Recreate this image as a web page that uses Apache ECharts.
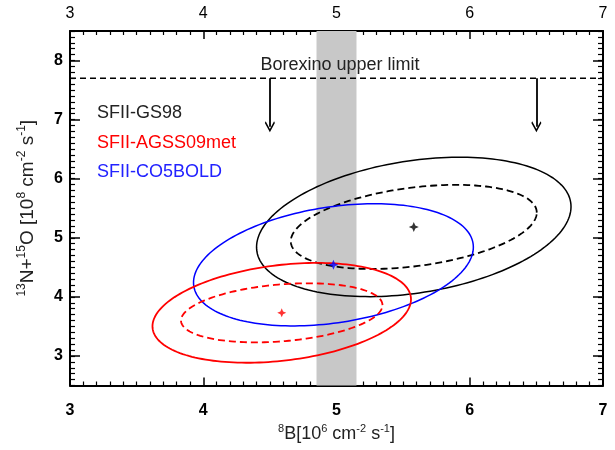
<!DOCTYPE html>
<html><head><meta charset="utf-8">
<script src="https://cdn.jsdelivr.net/npm/echarts@6/dist/echarts.min.js"></script>
<style>html,body{margin:0;padding:0;background:#fff}#c{width:615px;height:450px}</style>
</head><body><div id="c"></div>
<script>
// ---- data ----
const xTickValues = [3, 4, 5, 6, 7];
const yTickValues = [3, 4, 5, 6, 7, 8];
const bandX = [4.85, 5.15];
const borexinoLimit = 7.7;
const arrowX = [4.5, 6.5];
const arrowEnd = 6.88;

// best-fit points (centres) of the three models
const centerGS98 = [5.58, 5.184];
const centerCO5BOLD = [4.977, 4.542];
const centerAGSS = [4.589, 3.730];

// contour shapes: [x centre, y centre, x half-width, y half-height, correlation]
const gs98Outer    = [5.58, 5.184, 1.180, 1.180, 0.29];
const gs98Inner    = [5.58, 5.184, 0.923, 0.712, 0.34];
const co5boldOuter = [4.977, 4.542, 1.050, 1.034, 0.29];
const agssOuter    = [4.589, 3.730, 0.970, 0.845, 0.27];
const agssInner    = [4.589, 3.730, 0.756, 0.500, 0.26];

const legendNames = ['SFII-GS98', 'SFII-AGSS09met', 'SFII-CO5BOLD'];

// ---- chart ----
const FONT = 'Liberation Sans, Arial, Helvetica, sans-serif';
const starPath = 'path://M0,-10 L3,-3 L10,0 L3,3 L0,10 L-3,3 L-10,0 L-3,-3 Z';
const chevron = 'path://M0,0 L10,9 L8.4,10.6 L0,3 L-8.4,10.6 L-10,9 Z';

const chart = echarts.init(document.getElementById('c'), null, {renderer: 'canvas'});

function xAx(pos, bold) {
  return {
    type: 'value', position: pos, min: 3, max: 7, interval: 1,
    axisLine: {show: true, onZero: false, lineStyle: {color: '#000', width: 2}},
    axisTick: {inside: true, length: 8, lineStyle: {color: '#000', width: 1.5}},
    minorTick: {show: true, splitNumber: 10, length: 4, lineStyle: {color: '#000', width: 1.2}},
    splitLine: {show: false},
    axisLabel: {show: true, color: '#000', fontSize: 16, fontFamily: FONT,
      fontWeight: bold ? 'bold' : 'normal', margin: pos === 'bottom' ? 17 : 9}
  };
}
function yMain(pos) {
  return {
    type: 'value', position: pos, min: 2.5, max: 8.5,
    axisLine: {show: true, onZero: false, lineStyle: {color: '#000', width: 2}},
    axisTick: {inside: true, length: 10, customValues: yTickValues, lineStyle: {color: '#000', width: 1.5}},
    splitLine: {show: false},
    axisLabel: {show: pos === 'left', customValues: yTickValues, color: '#000', fontSize: 16,
      fontFamily: FONT, fontWeight: 'bold', margin: 7}
  };
}
function yMinor(pos) {
  return {
    type: 'value', position: pos, min: 2.5, max: 8.5, interval: 0.1,
    axisLine: {show: false},
    axisTick: {inside: true, length: 5, lineStyle: {color: '#000', width: 1.2}},
    splitLine: {show: false},
    axisLabel: {show: false}
  };
}

const xA = xAx('bottom', true);
xA.name = '{sup|8}{n|B[10}{sup|6}{n| cm}{sup|-2}{n| s}{sup|-1}{n|]}';
xA.nameLocation = 'middle';
xA.nameGap = 33;
xA.nameTextStyle = {color: '#222', fontFamily: FONT, rich: {
  n: {fontSize: 18, lineHeight: 20, fontFamily: FONT, color: '#222', verticalAlign: 'bottom'},
  sup: {fontSize: 11, lineHeight: 20, fontFamily: FONT, color: '#222', verticalAlign: 'top'}}};

const yA = yMain('left');
yA.name = '{sup|13}{n|N+}{sup|15}{n|O [10}{sup|8}{n| cm}{sup|-2}{n| s}{sup|-1}{n|]}';
yA.nameLocation = 'middle';
yA.nameGap = 33;
yA.nameRotate = 90;
yA.nameTextStyle = {color: '#222', fontFamily: FONT, rich: {
  n: {fontSize: 19, lineHeight: 21, fontFamily: FONT, color: '#222', verticalAlign: 'bottom'},
  sup: {fontSize: 12, lineHeight: 21, fontFamily: FONT, color: '#222', verticalAlign: 'top'}}};

// a confidence contour: one data item holding its centre, half-extents and correlation;
// the outline is traced in data space and mapped to pixels by the axes (api.coord)
function contour(name, params, color, dashed, width) {
  return {
    name, type: 'custom', data: [params], silent: true, z: 4, clip: false,
    encode: {x: 0, y: 1},
    renderItem: function (p, api) {
      const cx = api.value(0), cy = api.value(1), sx = api.value(2), sy = api.value(3), r = api.value(4);
      const q = Math.sqrt(1 - r * r);
      const pts = [];
      for (let i = 0; i < 180; i++) {
        const t = i / 180 * 2 * Math.PI;
        pts.push(api.coord([cx + sx * Math.cos(t), cy + sy * (r * Math.cos(t) + q * Math.sin(t))]));
      }
      return {
        type: 'polygon',
        shape: {points: pts},
        style: {fill: 'none', stroke: color, lineWidth: width, lineDash: dashed ? [7, 4] : null}
      };
    }
  };
}
function star(pt, color, size) {
  return {type: 'scatter', data: [pt], symbol: starPath, symbolSize: size,
    itemStyle: {color}, z: 6, silent: true};
}

const option = {
  animation: false,
  backgroundColor: '#fff',
  grid: {left: 70, right: 12, top: 31, bottom: 64.5, containLabel: false},
  xAxis: [xA, xAx('top', false)],
  yAxis: [yA, yMain('right'), yMinor('left'), yMinor('right')],
  graphic: [
    {type: 'text', x: 340, y: 65.5, z: 10, style: {text: 'Borexino upper limit', font: '18px ' + FONT, fill: '#222', textAlign: 'center', textVerticalAlign: 'middle'}},
    {type: 'text', x: 97, y: 113.3, z: 10, style: {text: legendNames[0], font: '18px ' + FONT, fill: '#222', textAlign: 'left', textVerticalAlign: 'middle'}},
    {type: 'text', x: 97, y: 142.7, z: 10, style: {text: legendNames[1], font: '18px ' + FONT, fill: '#ff0000', textAlign: 'left', textVerticalAlign: 'middle'}},
    {type: 'text', x: 97, y: 171.7, z: 10, style: {text: legendNames[2], font: '18px ' + FONT, fill: '#2222ff', textAlign: 'left', textVerticalAlign: 'middle'}}
  ],
  series: [
    {type: 'line', data: [], z: 1, silent: true,
      markArea: {silent: true, itemStyle: {color: '#c8c8c8'}, data: [[{xAxis: bandX[0]}, {xAxis: bandX[1]}]]}},
    {type: 'line', data: [[3, borexinoLimit], [7, borexinoLimit]], symbol: 'none', z: 3, silent: true,
      lineStyle: {color: '#000', width: 1.5, type: [6, 4]},
      markLine: {silent: true, symbol: ['none', chevron], symbolSize: [10, 11],
        label: {show: false}, lineStyle: {color: '#000', width: 1.8, type: 'solid'},
        data: arrowX.map(x => [{coord: [x, borexinoLimit]}, {coord: [x, arrowEnd]}])}},
    contour('GS98 outer', gs98Outer, '#000', false, 1.5),
    contour('GS98 inner', gs98Inner, '#000', true, 1.8),
    contour('CO5BOLD', co5boldOuter, '#0000ff', false, 1.5),
    contour('AGSS outer', agssOuter, '#ff0000', false, 1.8),
    contour('AGSS inner', agssInner, '#ff0000', true, 1.8),
    star(centerGS98, '#000', 10),
    star(centerCO5BOLD, '#0000ff', 10),
    star(centerAGSS, '#ff0000', 9)
  ]
};
chart.setOption(option);
</script>
</body></html>
